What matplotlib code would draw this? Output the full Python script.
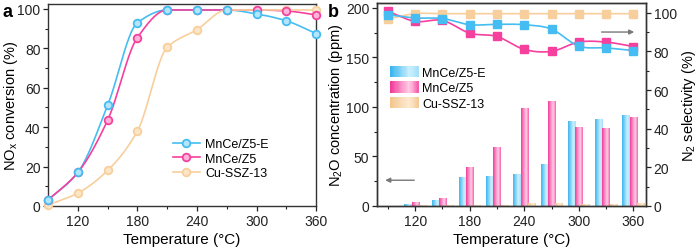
import numpy as np
import matplotlib
matplotlib.use('Agg')
import matplotlib.pyplot as plt
from matplotlib.colors import LinearSegmentedColormap
from matplotlib.patches import Patch, Rectangle
from matplotlib.lines import Line2D
from matplotlib.legend_handler import HandlerBase
from matplotlib.ticker import MultipleLocator

plt.rcParams['font.family'] = ['Liberation Sans', 'DejaVu Sans']
plt.rcParams['mathtext.default'] = 'regular'

# ---------------- data ----------------
series_names = ['MnCe/Z5-E', 'MnCe/Z5', 'Cu-SSZ-13']
temps = [90, 120, 150, 180, 210, 240, 270, 300, 330, 360]

# panel a: NOx conversion (%)
nox_e = [3, 17, 51, 93, 99.5, 99.5, 99.5, 97.5, 94, 87.5]
nox_z5 = [3, 17, 43.5, 85.5, 99.5, 99.5, 99.5, 99.5, 99, 97]
nox_cu = [0.5, 6.5, 18, 38, 80.5, 89.5, 99.5, 99.5, 99.5, 99.5]

# panel b: N2O concentration (ppm)
n2o_e = [0, 1.3, 5.7, 28.7, 29.7, 31.4, 41.5, 85, 87.8, 91.9]
n2o_z5 = [0, 3.5, 7.8, 38.9, 59, 98.6, 105.4, 79, 78.4, 89.2]
n2o_cu = [0, 0.3, 0.5, 0.6, 1.0, 2.3, 2.3, 1.8, 1.5, 3.0]

# panel b: N2 selectivity (%)
sel_e = [99, 97.3, 97, 93.8, 94, 93.8, 91.5, 82.7, 81.8, 80.4]
sel_z5 = [100.7, 95.5, 96, 89.4, 87.7, 81, 80, 84.8, 84.8, 82.5]
sel_cu = [96.8, 99.5, 99.5, 99.5, 99.5, 99.5, 99.5, 99.5, 99.5, 99.5]

colors = ['#45bdf2', '#f5409e', '#f8cf9c']
light = ['#b5e5fb', '#ffb3d8', '#fde6c8']


# ---------------- helpers ----------------
def hermite(x, y, slopes, n=400):
    x = np.asarray(x, float); y = np.asarray(y, float)
    h = np.diff(x)
    xs = np.linspace(x[0], x[-1], n)
    idx = np.clip(np.searchsorted(x, xs) - 1, 0, len(h) - 1)
    t = (xs - x[idx]) / h[idx]
    h00 = 2 * t**3 - 3 * t**2 + 1
    h10 = t**3 - 2 * t**2 + t
    h01 = -2 * t**3 + 3 * t**2
    h11 = t**3 - t**2
    ys = (h00 * y[idx] + h10 * h[idx] * slopes[idx]
          + h01 * y[idx + 1] + h11 * h[idx] * slopes[idx + 1])
    return xs, ys


def pchip(x, y):
    x = np.asarray(x, float); y = np.asarray(y, float)
    h = np.diff(x); d = np.diff(y) / h
    m = np.zeros_like(y)
    for k in range(1, len(x) - 1):
        if d[k - 1] * d[k] > 0:
            w1 = 2 * h[k] + h[k - 1]; w2 = h[k] + 2 * h[k - 1]
            m[k] = (w1 + w2) / (w1 / d[k - 1] + w2 / d[k])
    m[0] = d[0]; m[-1] = d[-1]
    return hermite(x, y, m)


def cardinal(x, y):
    x = np.asarray(x, float); y = np.asarray(y, float)
    m = np.gradient(y, x)
    return hermite(x, y, m)


cmaps = [
    LinearSegmentedColormap.from_list('b', ['#3db6ef', '#7fd2f6', '#cdeffd', '#a6e0fa']),
    LinearSegmentedColormap.from_list('p', ['#f23c9b', '#fa88c2', '#ffcfe6', '#f760ad']),
    LinearSegmentedColormap.from_list('t', ['#f3c68d', '#f8dab2', '#fdebd3', '#f5cc98']),
]


class GradHandler(HandlerBase):
    def __init__(self, cmap):
        super().__init__()
        self.cmap = cmap

    def create_artists(self, legend, orig_handle, xdescent, ydescent,
                       width, height, fontsize, trans):
        n = 24
        arts = []
        for i in range(n):
            r = Rectangle((-xdescent + width * i / n, -ydescent), width / n * 1.08, height,
                          facecolor=self.cmap(i / (n - 1)), edgecolor='none', transform=trans)
            arts.append(r)
        return arts


def style_axes(ax):
    for s in ax.spines.values():
        s.set_linewidth(1.0)
        s.set_color('#333333')
    ax.tick_params(which='both', direction='out', labelsize=10, colors='#222222', pad=2)
    ax.tick_params(which='major', length=3.5, width=0.9)
    ax.tick_params(which='minor', length=2, width=0.8)


# ---------------- figure ----------------
fig = plt.figure(figsize=(7.0, 2.53), dpi=100)
axa = fig.add_axes([0.0686, 0.182, 0.383, 0.798])
axb = fig.add_axes([0.5386, 0.182, 0.3843, 0.802])

# panel a
nox_all = [nox_e, nox_z5, nox_cu]
order = [2, 1, 0]
handles_a = []
for i in order:
    xs, ys = pchip(temps, nox_all[i])
    axa.plot(xs, ys, color=colors[i], lw=1.2, zorder=2 + i * 0.1)
for i in order:
    axa.plot(temps, nox_all[i], ls='none', marker='o', ms=5.5, mfc=light[i],
             mec=colors[i], mew=1.3, zorder=4 + (2 - i) * 0.1, clip_on=False)
for i in range(3):
    handles_a.append(Line2D([0], [0], color=colors[i], lw=1.2, marker='o', ms=5.5,
                            mfc=light[i], mec=colors[i], mew=1.3))
axa.set_xlim(90, 360)
axa.set_ylim(0, 102.5)
axa.xaxis.set_major_locator(MultipleLocator(60))
axa.xaxis.set_minor_locator(MultipleLocator(30))
axa.yaxis.set_major_locator(MultipleLocator(20))
axa.yaxis.set_minor_locator(MultipleLocator(10))
style_axes(axa)
axa.set_xlabel('Temperature (°C)', fontsize=11, labelpad=3)
axa.set_ylabel('NO$_x$ conversion (%)', fontsize=10.5)
axa.yaxis.set_label_coords(-0.105, 0.5)
axa.legend(handles_a, series_names, loc='upper left', bbox_to_anchor=(0.465, 0.335),
           frameon=False, fontsize=9, handlelength=2.2, handletextpad=0.4,
           labelspacing=0.2, borderaxespad=0, borderpad=0)

# panel b
w = 8
n2o_all = [n2o_e, n2o_z5, n2o_cu]
offsets = [-w, 0, w]
for i in range(3):
    bars = axb.bar(np.asarray(temps) + offsets[i], n2o_all[i], width=w,
                   color='none', edgecolor='none', zorder=2)
    grad = np.linspace(0, 1, 64).reshape(1, -1)
    for r in bars:
        hgt = r.get_height()
        if hgt <= 0:
            continue
        x0 = r.get_x()
        axb.imshow(grad, extent=[x0, x0 + r.get_width(), 0, hgt], aspect='auto',
                   cmap=cmaps[i], interpolation='bilinear', zorder=2)
axb.set_xlim(78, 374)
axb.set_ylim(0, 205)
axb.set_aspect('auto')
axb.xaxis.set_major_locator(MultipleLocator(60))
axb.xaxis.set_minor_locator(MultipleLocator(30))
axb.yaxis.set_major_locator(MultipleLocator(50))
axb.yaxis.set_minor_locator(MultipleLocator(25))
style_axes(axb)
axb.set_xlabel('Temperature (°C)', fontsize=11, labelpad=3)
axb.set_ylabel('N$_2$O concentration (ppm)', fontsize=10.5, labelpad=1)
axb.annotate('', xy=(84, 26), xytext=(122, 26),
             arrowprops=dict(arrowstyle='-|>', color='#777777', lw=1.0, mutation_scale=7))

axr = axb.twinx()
sel_all = [sel_e, sel_z5, sel_cu]
for i in order:
    xs, ys = cardinal(temps, sel_all[i])
    axr.plot(xs, ys, color=colors[i], lw=1.2, zorder=2)
for i in order:
    axr.plot(temps, sel_all[i], ls='none', marker='s', ms=5.5, color=colors[i],
             mec=colors[i], zorder=3, clip_on=False)
axr.set_ylim(0, 105)
axr.yaxis.set_major_locator(MultipleLocator(20))
axr.yaxis.set_minor_locator(MultipleLocator(10))
style_axes(axr)
axr.set_ylabel('N$_2$ selectivity (%)', fontsize=10.5, labelpad=2)
axr.annotate('', xy=(364, 90), xytext=(322, 90),
             arrowprops=dict(arrowstyle='-|>', color='#777777', lw=1.0, mutation_scale=7))

handles_b = [Patch() for _ in range(3)]
axb.legend(handles_b, series_names, loc='upper left', bbox_to_anchor=(0.05, 0.69),
           frameon=False, fontsize=9, handlelength=2.25, handleheight=1.0,
           handletextpad=0.3, labelspacing=0.2, borderaxespad=0, borderpad=0,
           handler_map={handles_b[i]: GradHandler(cmaps[i]) for i in range(3)})

fig.text(0.004, 0.985, 'a', fontsize=13, fontweight='bold', va='top', ha='left')
fig.text(0.469, 0.985, 'b', fontsize=13, fontweight='bold', va='top', ha='left')

fig.savefig('out.png', dpi=100)
